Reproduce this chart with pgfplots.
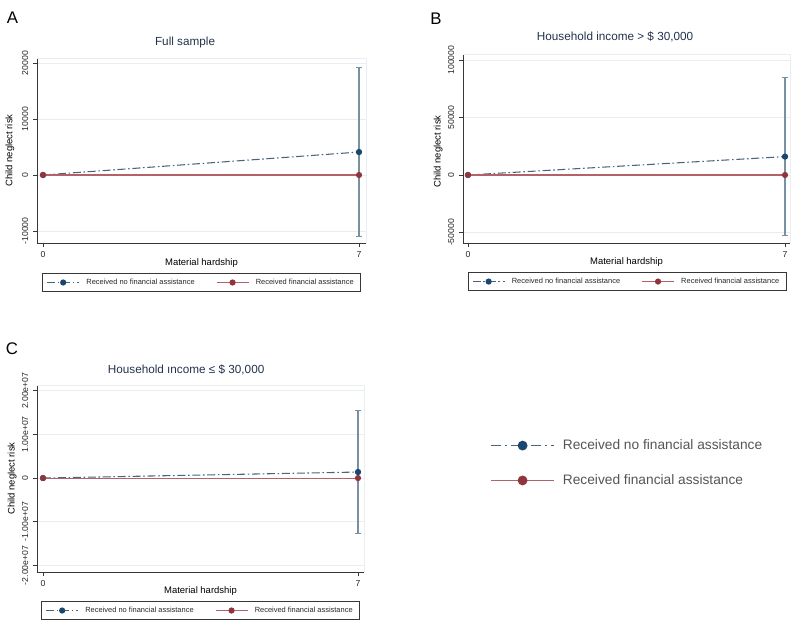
\documentclass[border=0pt]{standalone}
\usepackage{fontspec}
\setmainfont{Liberation Sans}
\usepackage{pgfplots}
\pgfplotsset{compat=1.18}
\definecolor{navyM}{RGB}{26,71,111}
\definecolor{navyL}{RGB}{75,100,125}
\definecolor{maroonM}{RGB}{144,53,59}
\definecolor{maroonL}{RGB}{178,98,104}
\definecolor{ciC}{RGB}{120,145,162}
\definecolor{gridC}{RGB}{232,238,242}
\definecolor{axC}{RGB}{55,55,55}
\definecolor{titleC}{RGB}{35,50,75}
\definecolor{txtC}{RGB}{40,40,40}
\definecolor{bigtxt}{RGB}{85,85,85}
\pgfplotsset{
 stataax/.style={
  scale only axis,
  anchor=south west,
  axis x line*=bottom, axis y line*=left,
  axis line style={-, draw=axC, line width=0.6pt},
  tick align=outside, major tick length=3pt,
  tick style={draw=axC, line width=0.6pt},
  xtick={0,7}, xticklabels={0,7},
  scaled y ticks=false, scaled x ticks=false,
  ymajorgrids, grid style={draw=gridC, line width=0.6pt},
  /pgf/number format/assume math mode=true,
  ticklabel style={font=\fontsize{6.5}{7}\selectfont, text=txtC},
  yticklabel style={rotate=90, anchor=south},
  label style={font=\fontsize{7.1}{8}\selectfont},
  ylabel style={anchor=center},
  xlabel style={anchor=center},
  title style={font=\fontsize{8.8}{10}\selectfont, text=titleC, anchor=center, yshift=-6pt},
  legend columns=2,
  legend cell align=left,
  legend style={font=\fontsize{5.6}{6.5}\selectfont, text=txtC, draw=axC, line width=0.5pt, anchor=center,
    /tikz/every even column/.append style={column sep=14pt},
    /tikz/every odd column/.append style={column sep=3pt}},
  legend image code/.code={\draw[mark repeat=2,mark phase=2,##1] plot coordinates {(0pt,0pt) (12pt,0pt) (24pt,0pt)};},
  after end axis/.code={\draw[gridC, line width=0.5pt] (rel axis cs:0,1) -- (rel axis cs:1,1) -- (rel axis cs:1,0);},
 },
 navyS/.style={navyL, line width=0.8pt, dash pattern=on 6pt off 2pt on 1.2pt off 2pt, mark=*, mark size=1.9pt, mark options={solid, fill=navyM, draw=navyM}},
 maroonS/.style={maroonL, line width=0.8pt, mark=*, mark size=1.9pt, mark options={solid, fill=maroonM, draw=maroonM}},
 ciS/.style={ciC, only marks, mark=none, forget plot, error bars/.cd, y dir=both, y explicit, error mark=|,
   error bar style={draw=ciC, line width=1.1pt, solid},
   error mark options={draw=ciC, line width=0.9pt, mark size=2.2pt, solid}},
}
\begin{document}
\begin{tikzpicture}
\useasboundingbox (0,0) rectangle (594.75pt,-467.25pt);
% Panel letters
\node[font=\fontsize{12.6}{14}\selectfont] at (9.4pt,-13.5pt) {A};
\node[font=\fontsize{12.6}{14}\selectfont] at (327pt,-13.9pt) {B};
\node[font=\fontsize{12.6}{14}\selectfont] at (9pt,-261.7pt) {C};

% Panel A
\begin{axis}[stataax, at={(27.75pt,-182.25pt)}, width=246.75pt, height=138.75pt,
  xmin=-0.133, xmax=7.155, ymin=-12143, ymax=20893,
  ytick={-10000,0,10000,20000}, yticklabels={-10000,0,10000,20000},
  title={Full sample}, title style={at={(axis description cs:0.45,1.0865)}},
  xlabel={Material hardship}, xlabel style={at={(axis description cs:0.5,-0.108)}},
  ylabel={Child neglect risk}, ylabel style={at={(axis description cs:-0.082,0.5)}},
  legend style={at={(axis description cs:0.5,-0.2135)}}]
\addplot[ciS] coordinates {(7,4100) +- (0,15100)};
\addplot[navyS] coordinates {(0,0) (7,4100)};
\addlegendentry{Received no financial assistance}
\addplot[maroonS] coordinates {(0,0) (7,0)};
\addlegendentry{Received financial assistance}
\end{axis}

% Panel B
\begin{axis}[stataax, at={(347.25pt,-182.25pt)}, width=245.25pt, height=141.75pt,
  xmin=-0.11, xmax=7.11, ymin=-59130, ymax=105217,
  ytick={-50000,0,50000,100000}, yticklabels={-50000,0,50000,100000},
  title={Household income > \$ 30,000}, title style={at={(axis description cs:0.465,1.09)}},
  xlabel={Material hardship}, xlabel style={at={(axis description cs:0.5,-0.1)}},
  ylabel={Child neglect risk}, ylabel style={at={(axis description cs:-0.076,0.484)}},
  legend style={at={(axis description cs:0.5015,-0.204)}}]
\addplot[ciS] coordinates {(7,16000) +- (0,68600)};
\addplot[navyS] coordinates {(0,0) (7,16000)};
\addlegendentry{Received no financial assistance}
\addplot[maroonS] coordinates {(0,0) (7,0)};
\addlegendentry{Received financial assistance}
\end{axis}

% Panel C
\begin{axis}[stataax, at={(27.75pt,-429pt)}, width=245.25pt, height=140.25pt,
  xmin=-0.133, xmax=7.133, ymin=-21500000, ymax=21300000,
  ytick={-20000000,-10000000,0,10000000,20000000}, yticklabels={-2.00e+07,-1.00e+07,0,1.00e+07,2.00e+07},
  title={Household ıncome ≤ \$ 30,000}, title style={at={(axis description cs:0.456,1.08)}},
  xlabel={Material hardship}, xlabel style={at={(axis description cs:0.5,-0.102)}},
  ylabel={Child neglect risk}, ylabel style={at={(axis description cs:-0.076,0.5)}},
  legend style={at={(axis description cs:0.5,-0.206)}}]
\addplot[ciS] coordinates {(7,1380000) +- (0,14100000)};
\addplot[navyS] coordinates {(0,0) (7,1380000)};
\addlegendentry{Received no financial assistance}
\addplot[maroonS] coordinates {(0,0) (7,0)};
\addlegendentry{Received financial assistance}
\end{axis}

% Big legend
\begin{axis}[at={(364.5pt,-370.5pt)}, anchor=south west, scale only axis, width=200pt, height=45pt,
  hide axis, xmin=0, xmax=1, ymin=0, ymax=1,
  legend cell align=left,
  legend style={at={(axis description cs:0,1)}, anchor=north west, draw=none,
    font=\fontsize{10.3}{12}\selectfont, text=bigtxt, row sep=13.2pt,
    /tikz/every odd column/.append style={column sep=4pt}},
  legend image code/.code={\draw[mark repeat=2,mark phase=2,#1] plot coordinates {(0pt,0pt) (23.6pt,0pt) (47.2pt,0pt)};}]
\addlegendimage{navyL, line width=1.3pt, dash pattern=on 7.5pt off 3pt on 1.5pt off 3pt, mark=*, mark size=3pt, mark options={solid, fill=navyM, draw=navyM}}
\addlegendentry{Received no financial assistance}
\addlegendimage{maroonL, line width=1.3pt, mark=*, mark size=3pt, mark options={solid, fill=maroonM, draw=maroonM}}
\addlegendentry{Received financial assistance}
\end{axis}
\end{tikzpicture}
\end{document}
